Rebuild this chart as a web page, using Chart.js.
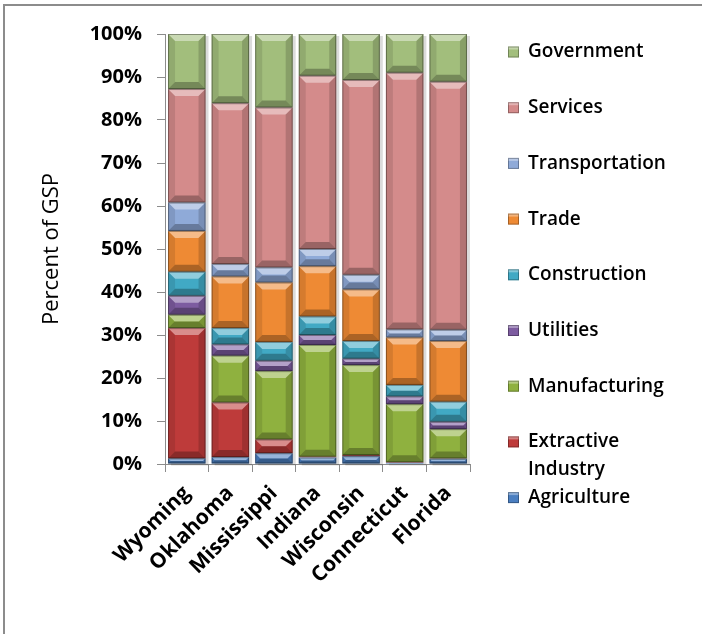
<!DOCTYPE html>
<html>
<head>
<meta charset="utf-8">
<script src="https://cdn.jsdelivr.net/npm/chart.js@4.4.0/dist/chart.umd.min.js"></script>
<style>
  html, body { margin: 0; background: #fff; }
  #wrap { width: 702px; height: 634px; }
</style>
</head>
<body>
<div id="wrap"><canvas id="gspChart" width="702" height="634"></canvas></div>
<script>
// Share of gross state product by industry (percent of GSP)
const states = ['Wyoming', 'Oklahoma', 'Mississippi', 'Indiana', 'Wisconsin', 'Connecticut', 'Florida'];

const agriculture    = [1.3, 1.6, 2.5, 1.5, 1.8, 0.3, 1.2];
const extractive     = [30.3, 12.7, 3.2, 0.2, 0.3, 0.1, 0.1];
const manufacturing  = [3.1, 10.9, 15.9, 26.0, 20.9, 13.5, 6.8];
const utilities      = [4.4, 2.6, 2.4, 2.3, 1.5, 1.8, 1.7];
const construction   = [5.6, 3.8, 4.4, 4.3, 4.1, 2.7, 4.7];
const trade          = [9.5, 12.0, 13.8, 11.7, 12.0, 11.0, 14.1];
const transportation = [6.6, 2.9, 3.5, 4.0, 3.4, 1.9, 2.6];
const services       = [26.4, 37.4, 37.2, 40.3, 45.3, 59.7, 57.7];
const government     = [12.8, 16.1, 17.1, 9.7, 10.7, 9.0, 11.1];

const yTickLabels = ['0%', '10%', '20%', '30%', '40%', '50%', '60%', '70%', '80%', '90%', '100%'];

const FONT = '"Open Sans", "DejaVu Sans", sans-serif';

// white background + grey outer frame
const chartFrame = {
  id: 'chartFrame',
  beforeDraw(chart) {
    const ctx = chart.ctx;
    ctx.save();
    ctx.fillStyle = '#fff';
    ctx.fillRect(0, 0, chart.width, chart.height);
    ctx.strokeStyle = '#8c8c8c';
    ctx.lineWidth = 2;
    ctx.strokeRect(4, 5, chart.width + 20, chart.height + 20);
    ctx.restore();
  }
};

// soft drop shadow behind each stacked column
const columnShadow = {
  id: 'columnShadow',
  beforeDatasetsDraw(chart) {
    const ctx = chart.ctx;
    const first = chart.getDatasetMeta(0).data;
    const last = chart.getDatasetMeta(chart.data.datasets.length - 1).data;
    ctx.save();
    ctx.fillStyle = 'rgba(0,0,0,0.14)';
    first.forEach((bar, i) => {
      const b = bar.getProps(['x', 'base', 'width'], true);
      const t = last[i].getProps(['y'], true);
      ctx.fillRect(b.x - b.width / 2 + 3, t.y + 2, b.width, b.base - t.y);
    });
    ctx.restore();
  }
};

// bevelled look on every bar segment
const bevel = {
  id: 'bevel',
  afterDatasetsDraw(chart) {
    const ctx = chart.ctx;
    ctx.save();
    chart.data.datasets.forEach((ds, di) => {
      chart.getDatasetMeta(di).data.forEach(bar => {
        const p = bar.getProps(['x', 'y', 'base', 'width'], true);
        const l = p.x - p.width / 2, r = p.x + p.width / 2;
        const t = Math.min(p.y, p.base), btm = Math.max(p.y, p.base);
        const h = btm - t;
        if (h < 1) return;
        const b = Math.min(7, h / 2);
        const poly = (pts, fill) => {
          ctx.beginPath();
          ctx.moveTo(pts[0][0], pts[0][1]);
          for (let k = 1; k < pts.length; k++) ctx.lineTo(pts[k][0], pts[k][1]);
          ctx.closePath();
          ctx.fillStyle = fill;
          ctx.fill();
        };
        poly([[l, t], [r, t], [r - b, t + b], [l + b, t + b]], 'rgba(255,255,255,0.42)');
        poly([[l, t], [l + b, t + b], [l + b, btm - b], [l, btm]], 'rgba(0,0,0,0.10)');
        poly([[r, t], [r - b, t + b], [r - b, btm - b], [r, btm]], 'rgba(0,0,0,0.16)');
        poly([[l, btm], [l + b, btm - b], [r - b, btm - b], [r, btm]], 'rgba(0,0,0,0.28)');
        ctx.strokeStyle = 'rgba(0,0,0,0.35)';
        ctx.lineWidth = 1;
        ctx.strokeRect(l + 0.5, t + 0.5, p.width - 1, h - 1);
      });
    });
    ctx.restore();
  }
};

// legend on the right, top series first
const sideLegend = {
  id: 'sideLegend',
  afterDraw(chart) {
    const ctx = chart.ctx;
    const x0 = 508, y0 = 52, step = 55.7, lineH = 28, maxW = 150;
    ctx.save();
    ctx.font = '600 19px ' + FONT;
    ctx.textBaseline = 'middle';
    ctx.fillStyle = '#000';
    const items = chart.data.datasets.slice().reverse();
    items.forEach((ds, i) => {
      const y = y0 + i * step;
      ctx.fillStyle = ds.backgroundColor;
      ctx.fillRect(x0, y - 5.5, 11, 11);
      ctx.fillStyle = 'rgba(255,255,255,0.35)';
      ctx.fillRect(x0, y - 5.5, 11, 3);
      ctx.strokeStyle = 'rgba(0,0,0,0.3)';
      ctx.strokeRect(x0 + 0.5, y - 5, 10, 10);
      ctx.fillStyle = '#000';
      // wrap long labels onto a second line
      const words = ds.label.split(' ');
      const lines = [];
      let cur = '';
      words.forEach(w => {
        const test = cur ? cur + ' ' + w : w;
        if (ctx.measureText(test).width > maxW && cur) { lines.push(cur); cur = w; }
        else cur = test;
      });
      lines.push(cur);
      lines.forEach((ln, k) => ctx.fillText(ln, x0 + 20, y + k * lineH));
    });
    ctx.restore();
  }
};

const series = [
  ['Agriculture', agriculture, '#4A7EC0'],
  ['Extractive Industry', extractive, '#BE3B3A'],
  ['Manufacturing', manufacturing, '#8FB13F'],
  ['Utilities', utilities, '#7D5CA0'],
  ['Construction', construction, '#41A9C4'],
  ['Trade', trade, '#EE8A34'],
  ['Transportation', transportation, '#8FAAD8'],
  ['Services', services, '#D48B8B'],
  ['Government', government, '#A2BE7C']
];

const ctx = document.getElementById('gspChart').getContext('2d');
new Chart(ctx, {
  type: 'bar',
  data: {
    labels: states,
    datasets: series.map(([label, data, color]) => ({
      label: label,
      data: data,
      backgroundColor: color,
      borderWidth: 0,
      barPercentage: 0.86,
      categoryPercentage: 1
    }))
  },
  options: {
    responsive: false,
    animation: false,
    layout: { padding: { left: 0, top: 34, right: 232, bottom: 0 } },
    plugins: {
      legend: { display: false },
      tooltip: { enabled: false }
    },
    scales: {
      x: {
        stacked: true,
        afterFit(scale) { scale.height = 170; },
        grid: { drawOnChartArea: false, tickLength: 8, color: '#8c8c8c', offset: true },
        border: { color: '#8c8c8c' },
        ticks: {
          color: '#000',
          font: { family: FONT, size: 21, weight: 'bold' },
          minRotation: 45,
          maxRotation: 45,
          padding: 9
        }
      },
      y: {
        stacked: true,
        min: 0,
        max: 100,
        afterFit(scale) { scale.width = 165; },
        grid: { drawOnChartArea: false, tickLength: 8, color: '#8c8c8c' },
        border: { color: '#8c8c8c' },
        ticks: {
          stepSize: 10,
          color: '#000',
          padding: 15,
          font: { family: FONT, size: 20, weight: 'bold' },
          callback: (v) => yTickLabels[Math.round(v / 10)]
        },
        title: {
          display: true,
          text: 'Percent of GSP',
          color: '#000',
          font: { family: FONT, size: 22 },
          padding: { top: 39, bottom: 0 }
        }
      }
    }
  },
  plugins: [chartFrame, columnShadow, bevel, sideLegend]
});
</script>
</body>
</html>
